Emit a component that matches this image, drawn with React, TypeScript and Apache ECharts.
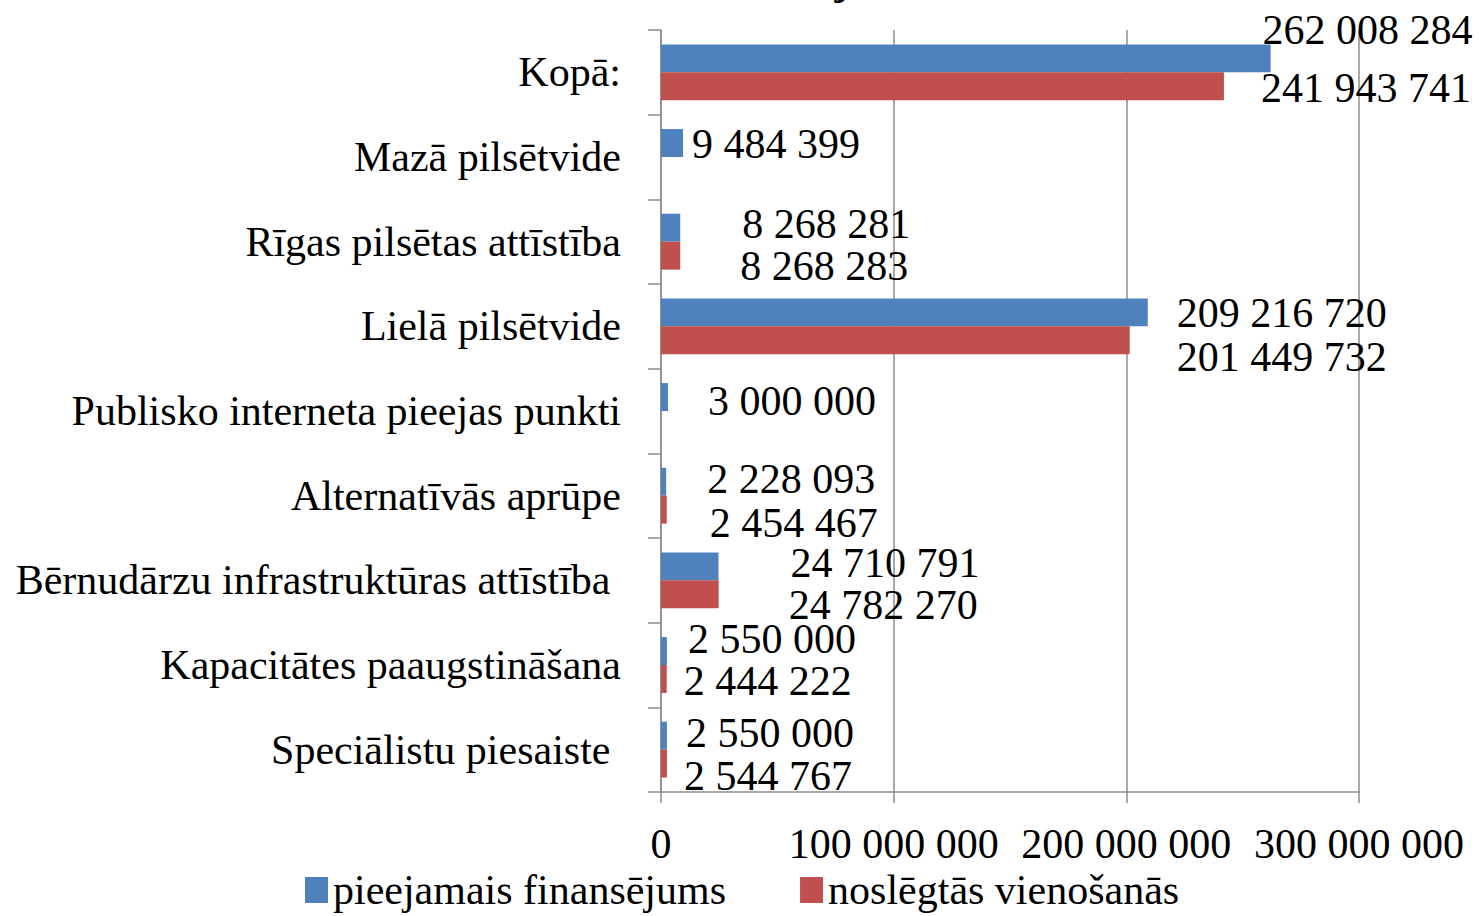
import React, { useEffect, useRef } from "react";
import * as echarts from "echarts";

const categories = [
  "Speciālistu piesaiste ",
  "Kapacitātes paaugstināšana",
  "Bērnudārzu infrastruktūras attīstība ",
  "Alternatīvās aprūpe",
  "Publisko interneta pieejas punkti",
  "Lielā pilsētvide",
  "Rīgas pilsētas attīstība",
  "Mazā pilsētvide",
  "Kopā:",
];

const seriesNames = ["pieejamais finansējums", "noslēgtās vienošanās"];

const available = [2550000, 2550000, 24710791, 2228093, 3000000, 209216720, 8268281, 9484399, 262008284];
const signed = [2544767, 2444222, 24782270, 2454467, null, 201449732, 8268283, null, 241943741];

// label nudges to mimic the reference's label placement
const availableOffsets = [[19, -3], [21, -12], [72, -3], [41, -3], [40, 4], [29, 1], [62, -4], [9, 1], [-8, -28]];
const signedOffsets = [[17, 12], [17, 2], [70, 11], [43, 13], [0, 0], [47, 17], [60, 10], [0, 0], [37, 2]];

const xTicks = { min: 0, max: 300000000, interval: 100000000 };

const fmt = (v: number) => String(Math.round(v)).replace(/\B(?=(\d{3})+(?!\d))/g, " ");

const FONT = "Liberation Serif";
const FS = 42;

export default function App() {
  const ref = useRef<HTMLDivElement>(null);
  useEffect(() => {
    if (!ref.current) return;
    const chart = echarts.init(ref.current, undefined, { renderer: "svg" });
    const mk = (vals: (number | null)[], offs: number[][]) =>
      vals.map((v, i) => ({
        value: v === null ? "-" : v,
        label: { offset: offs[i] },
      }));
    const labelStyle = {
      show: true,
      position: "right",
      distance: 0,
      fontFamily: FONT,
      fontSize: FS,
      lineHeight: 30,
      color: "#000",
      formatter: (p: any) => fmt(p.value),
    };
    chart.setOption({
      animation: false,
      textStyle: { fontFamily: FONT },
      graphic: [
        {
          type: "text",
          x: 770,
          y: -41,
          style: { text: "Projekti", fontFamily: FONT, fontSize: 42, fontWeight: "bold", fill: "#000" },
        },
      ],
      legend: {
        bottom: 0,
        left: 300,
        itemWidth: 23,
        itemHeight: 26,
        itemGap: 74,
        icon: "rect",
        textStyle: { fontFamily: FONT, fontSize: FS, color: "#000" },
        data: seriesNames,
      },
      grid: { left: 661, right: 120, top: 30, bottom: 124, containLabel: false },
      xAxis: {
        type: "value",
        min: xTicks.min,
        max: xTicks.max,
        interval: xTicks.interval,
        axisLine: { show: true, lineStyle: { color: "#8c8c8c", width: 1.5 } },
        axisTick: { show: true, length: 11, lineStyle: { color: "#8c8c8c", width: 1.5 } },
        splitLine: { show: true, lineStyle: { color: "#8c8c8c", width: 1.5 } },
        axisLabel: {
          margin: 31,
          fontFamily: FONT,
          fontSize: FS,
          color: "#000",
          formatter: (v: number) => fmt(v),
        },
      },
      yAxis: {
        type: "category",
        data: categories,
        axisLine: { show: true, lineStyle: { color: "#8c8c8c", width: 1.5 } },
        axisTick: { show: true, length: 13, lineStyle: { color: "#8c8c8c", width: 1.5 } },
        axisLabel: { margin: 40, fontFamily: FONT, fontSize: FS, color: "#000" },
      },
      series: [
        {
          name: seriesNames[0],
          type: "bar",
          barGap: "0%",
          barCategoryGap: "34%",
          itemStyle: { color: "#4F81BD" },
          label: labelStyle,
          data: mk(available, availableOffsets),
        },
        {
          name: seriesNames[1],
          type: "bar",
          barGap: "0%",
          barCategoryGap: "34%",
          itemStyle: { color: "#C0504D" },
          label: labelStyle,
          data: mk(signed, signedOffsets),
        },
      ],
    });
    return () => chart.dispose();
  }, []);
  return (
    <div
      ref={ref}
      style={{ position: "fixed", left: 0, top: 0, width: 1479, height: 916, background: "#fff" }}
    />
  );
}
